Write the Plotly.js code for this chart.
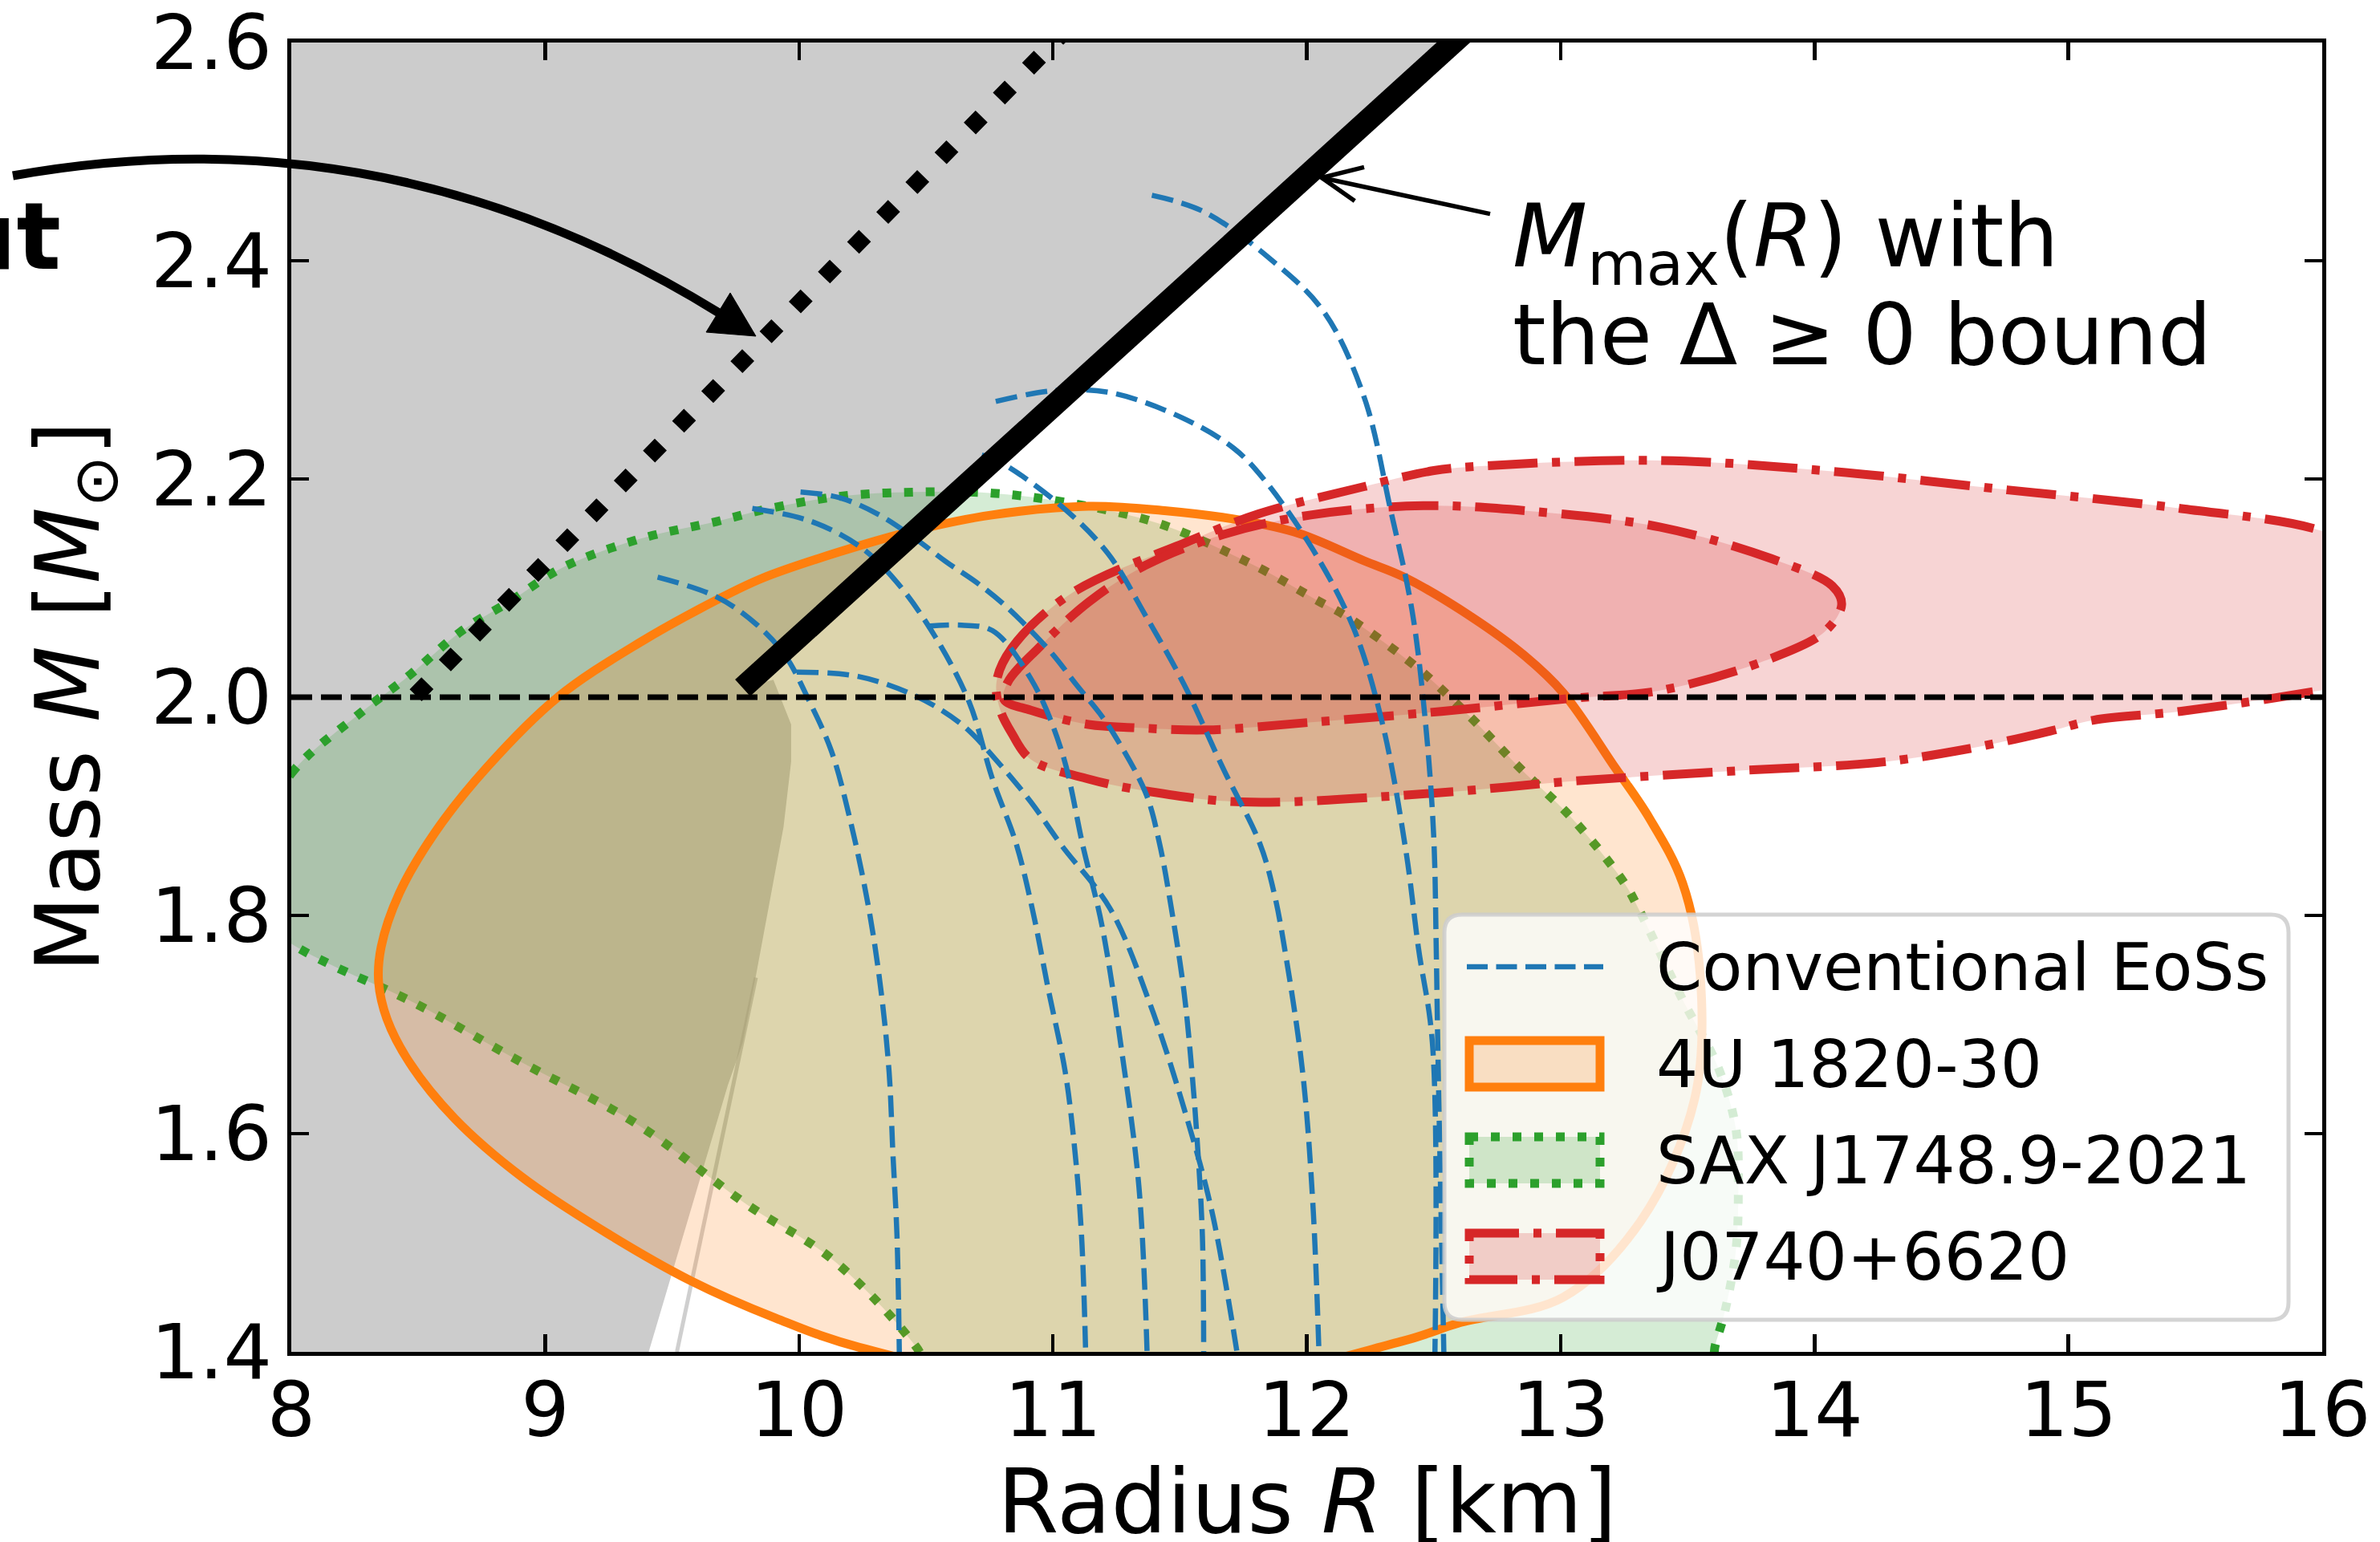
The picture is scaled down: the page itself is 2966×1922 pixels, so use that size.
<!DOCTYPE html>
<html><head><meta charset="utf-8">
<script src="https://cdn.plot.ly/plotly-3.0.1.min.js"></script>
<style>html,body{margin:0;padding:0;background:#fff;}#chart{width:2966px;height:1922px;}</style>
</head><body><div id="chart"></div>
<script>
// ---------------- data ----------------
const xTicks = [8, 9, 10, 11, 12, 13, 14, 15, 16];
const yTicks = [1.4, 1.6, 1.8, 2.0, 2.2, 2.4, 2.6];

// excluded (grey) region
const greyR = [7.9, 7.9, 12.625, 9.778, 9.899, 9.969, 9.969, 9.939, 9.828, 9.778, 9.719, 9.408, 9.39];
const greyM = [1.39, 2.61, 2.61, 2.0085, 2.016, 1.975, 1.941, 1.881, 1.742, 1.683, 1.644, 1.40, 1.39];
const edgeR = [9.519, 9.83];
const edgeM = [1.40, 1.743];

// M_max(R) with the Delta >= 0 bound (thick black)
const mmaxR = [9.778, 12.625];
const mmaxM = [2.0085, 2.61];
// dotted (diamond) bound
const dotR = [8.49, 11.10];
const dotM = [2.0017, 2.623];
// 2 Msun reference
const refR = [8, 16];
const refM = [2.0, 2.0];

// 4U 1820-30
const u4R = [11.3, 10.24, 9.907, 9.575, 9.242, 8.91, 8.643, 8.466, 8.377, 8.344, 8.354, 8.425, 8.566, 8.768, 9.05, 9.372, 9.675, 9.855, 10.157, 10.46, 10.76, 11.14, 11.44, 11.745, 11.97, 12.226, 12.384, 12.646, 12.858, 13.01, 13.216, 13.35, 13.48, 13.55, 13.528, 13.316, 13.01, 12.607, 12.38, 11.3];
const u4M = [1.36, 1.404, 1.431, 1.465, 1.509, 1.56, 1.614, 1.665, 1.705, 1.739, 1.771, 1.82, 1.876, 1.935, 2.0, 2.05, 2.089, 2.109, 2.133, 2.153, 2.167, 2.175, 2.171, 2.162, 2.150, 2.125, 2.11, 2.074, 2.038, 2.004, 1.935, 1.889, 1.83, 1.745, 1.632, 1.52, 1.45, 1.427, 1.41, 1.36];

// SAX J1748.9-2021
const saxR = [7.85, 8.0, 8.264, 8.465, 8.667, 8.869, 9.07, 9.372, 9.675, 9.866, 10.157, 10.46, 10.762, 11.065, 11.42, 11.8, 12.047, 12.15, 12.43, 12.635, 12.84, 13.045, 13.25, 13.316, 13.48, 13.62, 13.69, 13.70, 13.69, 13.645, 13.61, 13.55, 10.6, 10.46, 10.13, 9.795, 9.353, 8.91, 8.466, 8.163, 8.0, 7.85, 7.85];
const saxM = [1.86, 1.93, 1.984, 2.02, 2.06, 2.089, 2.119, 2.145, 2.161, 2.172, 2.184, 2.188, 2.187, 2.178, 2.159, 2.12, 2.088, 2.075, 2.028, 1.984, 1.935, 1.889, 1.83, 1.802, 1.723, 1.661, 1.605, 1.548, 1.492, 1.435, 1.407, 1.35, 1.35, 1.405, 1.485, 1.535, 1.61, 1.665, 1.722, 1.754, 1.774, 1.80, 1.86];

// J0740+6620 outer contour
const jOutR = [10.778, 10.838, 11.065, 11.547, 11.81, 12.226, 12.496, 12.70, 13.39, 14.07, 14.76, 15.44, 15.99, 16.3, 16.3, 15.99, 15.44, 15.1, 14.93, 14.59, 14.245, 13.73, 13.045, 12.496, 11.745, 11.367, 11.14, 10.913, 10.838, 10.793, 10.778];
const jOutM = [2.014, 2.045, 2.094, 2.144, 2.168, 2.193, 2.2075, 2.212, 2.217, 2.207, 2.19, 2.173, 2.153, 2.12, 2.02, 2.006, 1.987, 1.979, 1.969, 1.952, 1.94, 1.933, 1.923, 1.912, 1.904, 1.914, 1.925, 1.943, 1.967, 1.988, 2.014];
// J0740+6620 inner contour
const jInR = [10.807, 10.823, 10.943, 11.14, 11.366, 11.67, 12.016, 12.46, 12.875, 13.39, 13.83, 14.07, 14.107, 14.04, 13.80, 13.39, 13.045, 12.53, 12.016, 11.605, 11.33, 11.14, 10.913, 10.807];
const jInM = [1.998, 2.014, 2.045, 2.087, 2.121, 2.149, 2.167, 2.1755, 2.1706, 2.156, 2.127, 2.102, 2.085, 2.06, 2.033, 2.006, 1.999, 1.987, 1.977, 1.970, 1.972, 1.975, 1.988, 1.998];

// conventional EoS mass-radius curves
const eos1R = [9.443, 9.675, 9.836, 9.946, 10.037, 10.127, 10.203, 10.275, 10.323, 10.355, 10.370, 10.386, 10.395];
const eos1M = [2.110, 2.092, 2.066, 2.038, 1.998, 1.951, 1.886, 1.806, 1.731, 1.656, 1.581, 1.506, 1.400];
const eos2R = [9.816, 10.050, 10.246, 10.383, 10.535, 10.671, 10.762, 10.855, 10.919, 10.983, 11.049, 11.088, 11.113, 11.129];
const eos2M = [2.173, 2.161, 2.137, 2.106, 2.056, 1.995, 1.925, 1.866, 1.806, 1.731, 1.656, 1.581, 1.506, 1.400];
const eos3R = [10.006, 10.157, 10.309, 10.460, 10.580, 10.700, 10.807, 10.913, 11.004, 11.094, 11.185, 11.246, 11.366, 11.420, 11.467, 11.516, 11.548, 11.572, 11.589, 11.594];
const eos3M = [2.188, 2.183, 2.168, 2.145, 2.124, 2.105, 2.085, 2.061, 2.038, 2.011, 1.985, 1.964, 1.912, 1.866, 1.806, 1.731, 1.656, 1.581, 1.506, 1.400];
const eos4R = [10.505, 10.640, 10.762, 10.913, 11.034, 11.120, 11.194, 11.274, 11.339, 11.371];
const eos4M = [2.065, 2.066, 2.061, 2.017, 1.951, 1.862, 1.790, 1.671, 1.551, 1.400];
const eos5R = [9.991, 10.233, 10.460, 10.641, 10.793, 10.913, 11.035, 11.226, 11.387, 11.532, 11.628, 11.725];
const eos5M = [2.023, 2.019, 2.001, 1.975, 1.938, 1.904, 1.864, 1.806, 1.716, 1.611, 1.527, 1.400];
const eos6R = [10.720, 10.796, 11.034, 11.216, 11.367, 11.518, 11.670, 11.815, 11.871, 11.919, 11.984, 12.024, 12.048];
const eos6M = [2.222, 2.215, 2.175, 2.132, 2.074, 2.011, 1.935, 1.866, 1.821, 1.761, 1.656, 1.536, 1.400];
const eos7R = [10.775, 11.007, 11.229, 11.510, 11.713, 11.830, 12.025, 12.185, 12.300, 12.390, 12.440, 12.495, 12.505];
const eos7M = [2.271, 2.281, 2.279, 2.256, 2.228, 2.200, 2.135, 2.063, 1.974, 1.860, 1.770, 1.683, 1.400];
const eos8R = [11.390, 11.594, 11.857, 12.068, 12.226, 12.330, 12.415, 12.468, 12.500, 12.510, 12.516, 12.540];
const eos8M = [2.460, 2.445, 2.4015, 2.353, 2.275, 2.172, 2.079, 1.976, 1.873, 1.770, 1.683, 1.400];

const legendLabels = ['Conventional EoSs', '4U 1820-30', 'SAX J1748.9-2021', 'J0740+6620'];

// ---------------- styling ----------------
const BLUE = '#1f77b4', ORANGE = '#ff7f0e', GREEN = '#2ca02c', RED = '#d62728';
const FONT = 'DejaVu Sans';
const PL = 363, PR = 2894, PT = 53, PB = 1685;
const P = px => (px - PL) / (PR - PL);
const Q = py => (PB - py) / (PB - PT);

function ln(x, y, color, width, dash, spline) {
  return {type: 'scatter', mode: 'lines', x: x, y: y, hoverinfo: 'skip', showlegend: false,
    line: {color: color, width: width, dash: dash || 'solid', shape: spline ? 'spline' : 'linear'}};
}
function area(x, y, fill, color, width, dash) {
  return {type: 'scatter', mode: 'lines', x: x, y: y, fill: 'toself', fillcolor: fill, hoverinfo: 'skip', showlegend: false,
    line: {color: color, width: width, dash: dash || 'solid', shape: 'spline', smoothing: 1}};
}

const eosDash = '27px,11px';
const redDash = '62px,18px,10px,18px';
const greenDash = '11px,16px';

const traces = [
  {type: 'scatter', mode: 'lines', x: greyR, y: greyM, fill: 'toself', fillcolor: '#cccccc', line: {width: 0, color: 'rgba(0,0,0,0)'}, hoverinfo: 'skip', showlegend: false},
  ln(edgeR, edgeM, 'rgba(175,175,175,0.6)', 5, 'solid', false),
  area(saxR, saxM, 'rgba(44,160,44,0.2)', GREEN, 11, greenDash),
  area(u4R, u4M, 'rgba(255,127,14,0.2)', ORANGE, 11, 'solid'),
  area(jOutR, jOutM, 'rgba(214,39,40,0.2)', RED, 11, redDash),
  area(jInR, jInM, 'rgba(214,39,40,0.2)', RED, 11, redDash),
  ln(eos1R, eos1M, BLUE, 6.5, eosDash, true),
  ln(eos2R, eos2M, BLUE, 6.5, eosDash, true),
  ln(eos3R, eos3M, BLUE, 6.5, eosDash, true),
  ln(eos4R, eos4M, BLUE, 6.5, eosDash, true),
  ln(eos5R, eos5M, BLUE, 6.5, eosDash, true),
  ln(eos6R, eos6M, BLUE, 6.5, eosDash, true),
  ln(eos7R, eos7M, BLUE, 6.5, eosDash, true),
  ln(eos8R, eos8M, BLUE, 6.5, eosDash, true),
  ln(refR, refM, 'black', 7, '26px,11px', false),
  ln(mmaxR, mmaxM, 'black', 28, 'solid', false),
  ln(dotR, dotM, 'black', 21, '21px,31px', false)
];

// legend geometry (pixels)
const LB = {x1: 1800, x2: 2852, y1: 1140, y2: 1645, r: 22};
const rowY = [1205, 1326, 1446, 1566];
const hx1 = 1831, hx2 = 1994, hh = 29;

function rr(b) {
  const f = (x, y) => P(x) + ',' + Q(y);
  return 'M' + f(b.x1 + b.r, b.y1) + ' L' + f(b.x2 - b.r, b.y1) + ' Q' + f(b.x2, b.y1) + ' ' + f(b.x2, b.y1 + b.r) +
    ' L' + f(b.x2, b.y2 - b.r) + ' Q' + f(b.x2, b.y2) + ' ' + f(b.x2 - b.r, b.y2) +
    ' L' + f(b.x1 + b.r, b.y2) + ' Q' + f(b.x1, b.y2) + ' ' + f(b.x1, b.y2 - b.r) +
    ' L' + f(b.x1, b.y1 + b.r) + ' Q' + f(b.x1, b.y1) + ' ' + f(b.x1 + b.r, b.y1) + ' Z';
}
const pp = (x, y) => P(x) + ',' + Q(y);

const shapes = [
  // curved arrow
  {type: 'path', xref: 'paper', yref: 'paper', layer: 'above', path: 'M' + pp(16, 219) + ' Q' + pp(484, 135) + ' ' + pp(896, 390),
   line: {color: 'black', width: 11}, fillcolor: 'rgba(0,0,0,0)'},
  {type: 'path', xref: 'paper', yref: 'paper', layer: 'above', path: 'M' + pp(942, 419) + ' L' + pp(880, 414) + ' L' + pp(910, 365) + ' Z',
   line: {color: 'black', width: 1}, fillcolor: 'black'},
  // M_max annotation arrow
  {type: 'path', xref: 'paper', yref: 'paper', layer: 'above', path: 'M' + pp(1857, 266.6) + ' L' + pp(1647, 221.5),
   line: {color: 'black', width: 5.5}, fillcolor: 'rgba(0,0,0,0)'},
  {type: 'path', xref: 'paper', yref: 'paper', layer: 'above', path: 'M' + pp(1700, 208.4) + ' L' + pp(1647, 221.5) + ' L' + pp(1688.3, 250.5),
   line: {color: 'black', width: 5.5}, fillcolor: 'rgba(0,0,0,0)'},
  // legend box
  {type: 'path', xref: 'paper', yref: 'paper', layer: 'above', path: rr(LB),
   line: {color: 'rgba(204,204,204,0.85)', width: 5}, fillcolor: 'rgba(255,255,255,0.8)'},
  // legend handles
  {type: 'line', xref: 'paper', yref: 'paper', layer: 'above', x0: P(1828), x1: P(1998), y0: Q(rowY[0]), y1: Q(rowY[0]),
   line: {color: BLUE, width: 6.5, dash: '26px,10.5px'}},
  {type: 'rect', xref: 'paper', yref: 'paper', layer: 'above', x0: P(hx1), x1: P(hx2), y0: Q(rowY[1] - hh), y1: Q(rowY[1] + hh),
   line: {color: ORANGE, width: 11}, fillcolor: 'rgba(255,127,14,0.2)'},
  {type: 'rect', xref: 'paper', yref: 'paper', layer: 'above', x0: P(hx1), x1: P(hx2), y0: Q(rowY[2] - hh), y1: Q(rowY[2] + hh),
   line: {color: GREEN, width: 11, dash: greenDash}, fillcolor: 'rgba(44,160,44,0.2)'},
  {type: 'rect', xref: 'paper', yref: 'paper', layer: 'above', x0: P(hx1), x1: P(hx2), y0: Q(rowY[3] - hh), y1: Q(rowY[3] + hh),
   line: {color: RED, width: 11, dash: redDash}, fillcolor: 'rgba(214,39,40,0.2)'}
];

const annotations = [
  {xref: 'paper', yref: 'paper', x: P(92), y: 0.5, text: 'Mass <i>M</i> [<i>M</i><sub>⊙</sub>]', textangle: -90,
   showarrow: false, xanchor: 'center', yanchor: 'middle', font: {family: FONT, size: 110, color: 'black'}},
  {xref: 'paper', yref: 'paper', x: 0.5, y: Q(1872), text: 'Radius <i>R</i> [km]',
   showarrow: false, xanchor: 'center', yanchor: 'middle', font: {family: FONT, size: 110, color: 'black'}},
  {xref: 'paper', yref: 'paper', x: P(1883), y: Q(302), text: '<i>M</i><sub>max</sub>(<i>R</i>) with',
   showarrow: false, xanchor: 'left', yanchor: 'middle', font: {family: FONT, size: 108, color: 'black'}},
  {xref: 'paper', yref: 'paper', x: P(1883), y: Q(417), text: 'the Δ ≥ 0 bound',
   showarrow: false, xanchor: 'left', yanchor: 'middle', font: {family: FONT, size: 106, color: 'black'}},
  {xref: 'paper', yref: 'paper', x: P(78), y: Q(294), text: '<b>ut</b>',
   showarrow: false, xanchor: 'right', yanchor: 'middle', font: {family: FONT, size: 116, color: 'black'}}
];
legendLabels.forEach((t, i) => annotations.push({xref: 'paper', yref: 'paper', x: P(2062), y: Q(rowY[i]), text: t,
  showarrow: false, xanchor: 'left', yanchor: 'middle', font: {family: FONT, size: 82, color: 'black'}}));

const axisCommon = {ticks: 'inside', ticklen: 22, tickwidth: 4.5, tickcolor: 'black', showline: true, linewidth: 5,
  linecolor: 'black', mirror: 'ticks', showgrid: false, zeroline: false, ticklabeloverflow: 'allow',
  tickfont: {family: FONT, size: 95, color: 'black'}};

const layout = {
  width: 2966, height: 1922,
  margin: {l: PL, r: 2966 - PR, t: PT, b: 1922 - PB, pad: 0},
  paper_bgcolor: 'white', plot_bgcolor: 'white', showlegend: false,
  font: {family: FONT, color: 'black'},
  xaxis: Object.assign({range: [8, 16], tickmode: 'array', tickvals: xTicks, ticktext: xTicks.map(String), ticklabelstandoff: -14}, axisCommon),
  yaxis: Object.assign({range: [1.4, 2.6], tickmode: 'array', tickvals: yTicks, ticktext: yTicks.map(v => v.toFixed(1))}, axisCommon),
  shapes: shapes, annotations: annotations
};

Plotly.newPlot('chart', traces, layout, {staticPlot: true, displayModeBar: false});
</script></body></html>
